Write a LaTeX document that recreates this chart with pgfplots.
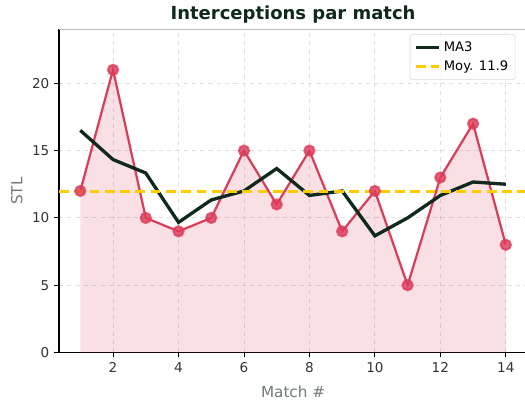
\documentclass[border=0pt]{standalone}
\usepackage{pgfplots}
\pgfplotsset{compat=1.18}
\usepackage{fontspec}
\setmainfont{DejaVu Sans}

\definecolor{crim}{HTML}{DC3C5A}
\definecolor{darkg}{HTML}{0F2A1A}
\definecolor{gold}{HTML}{FFCC00}
\definecolor{labgrey}{HTML}{6E7B78}

\pgfplotstableread{
x y ma
1 12 16.5
2 21 14.333
3 10 13.333
4 9 9.667
5 10 11.333
6 15 12
7 11 13.667
8 15 11.667
9 9 12
10 12 8.667
11 5 10
12 13 11.667
13 17 12.667
14 8 12.5
}\stl

\begin{document}
\begin{tikzpicture}
\useasboundingbox (0,0) rectangle (378bp,291.6bp);
\begin{axis}[
  at={(42.5bp,37.8bp)}, anchor=south west,
  width=337bp, height=232.6bp, scale only axis,
  xmin=0.35, xmax=14.65, ymin=0, ymax=24,
  xtick={2,4,...,14}, ytick={0,5,...,20},
  tick align=outside, tick style={black, line width=0.6pt},
  major tick length=3.5bp,
  axis x line*=bottom, axis y line*=left,
  axis line style={black, line width=0.8pt},
  grid=major,
  major grid style={dashed, gray!25, line width=0.6pt},
  ticklabel style={font=\fontsize{9.8}{12}\selectfont, text=black!80},
  /pgf/number format/assume math mode=true,
  xlabel={Match \#}, ylabel={STL},
  xlabel style={yshift=-3bp},
  label style={font=\fontsize{11}{13}\selectfont, text=labgrey},
  title={Interceptions par match},
  title style={font=\fontsize{13}{15}\selectfont\bfseries, text=darkg, yshift=-5bp},
  legend style={at={(0.975,0.985)}, anchor=north east, font=\fontsize{9.5}{11}\selectfont,
    draw=gray!30, rounded corners=2bp, fill=white, fill opacity=0.85, text opacity=1,
    inner sep=3bp, row sep=1.5bp},
  legend cell align=left,
  clip=false,
]
\addplot[draw=none, fill=crim, fill opacity=0.16, forget plot] table[x=x,y=y] {\stl} \closedcycle;
\addplot[crim, line width=1.6pt, mark=*, mark size=3.6pt,
  mark options={fill=crim, draw=crim, fill opacity=0.8, draw opacity=0.8}, forget plot]
  table[x=x,y=y] {\stl};
\addplot[darkg, line width=2.4pt] table[x=x,y=ma] {\stl};
\addlegendentry{MA3}
\addplot[gold, line width=2.1pt, dash pattern=on 7bp off 4bp] coordinates {(0.35,11.93) (14.65,11.93)};
\addlegendentry{Moy. 11.9}
\draw[gray!55, line width=0.6pt] (axis cs:0.35,24) -- (axis cs:14.65,24);
\end{axis}
\end{tikzpicture}
\end{document}
